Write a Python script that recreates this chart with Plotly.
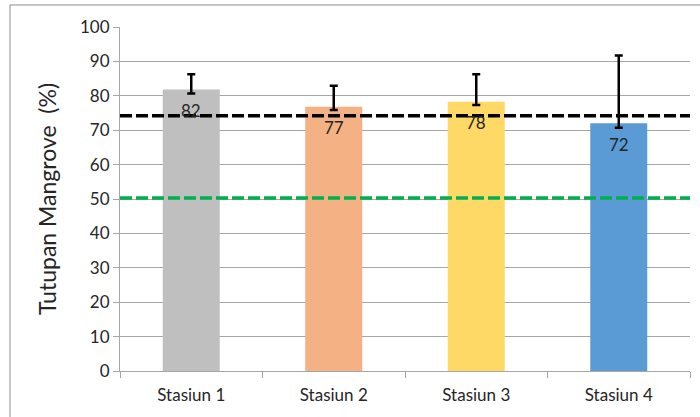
import plotly.graph_objects as go

categories = ["Stasiun 1", "Stasiun 2", "Stasiun 3", "Stasiun 4"]
values = [81.8, 76.8, 78.3, 72.0]
labels = ["82", "77", "78", "72"]
err_plus = [4.5, 6.1, 8.0, 19.7]
err_minus = [1.1, 0.9, 1.0, 1.3]
colors = ["#BFBFBF", "#F4B183", "#FFD966", "#5B9BD5"]
ref_black = 74.2
ref_green = 50.3

FONT = "Lato"

fig = go.Figure()
fig.add_trace(go.Bar(
    x=categories, y=values,
    marker=dict(color=colors, line=dict(width=0)),
    error_y=dict(type="data", symmetric=False, array=err_plus, arrayminus=err_minus,
                 color="black", thickness=2.5, width=4),
    showlegend=False,
    hoverinfo="skip",
))

for c, v, t in zip(categories, values, labels):
    fig.add_annotation(x=c, y=v, text=t, showarrow=False, yshift=-21,
                       font=dict(family=FONT, size=17, color="#262626"))

fig.add_shape(type="line", xref="paper", x0=0, x1=1, yref="y", y0=ref_black, y1=ref_black,
              line=dict(color="black", width=3.7, dash="12px,4px"))
fig.add_shape(type="line", xref="paper", x0=0, x1=1, yref="y", y0=ref_green, y1=ref_green,
              line=dict(color="#00B050", width=3.5, dash="12px,4px"))

# outer chart border
fig.add_shape(type="rect", xref="paper", yref="paper", x0=-0.193, x1=1.1, y0=-0.3, y1=1.064,
              line=dict(color="#8C8C8C", width=1), fillcolor="rgba(0,0,0,0)", layer="below")

fig.update_layout(
    width=700, height=417,
    margin=dict(l=120, r=10, t=27, b=46),
    paper_bgcolor="white", plot_bgcolor="white",
    bargap=0.6,
    font=dict(family=FONT, color="#404040"),
    yaxis=dict(range=[0, 100], dtick=10, showgrid=True, gridcolor="#A6A6A6", gridwidth=1,
               showline=True, linecolor="#A6A6A6", linewidth=1, ticks="outside", ticklen=6,
               tickcolor="#A6A6A6", tickfont=dict(size=17, color="#262626"), zeroline=False,
               title=dict(text="Tutupan Mangrove  (%)", font=dict(size=23, color="#262626"), standoff=16)),
    xaxis=dict(showline=True, linecolor="#A6A6A6", linewidth=1, ticks="outside", ticklen=6,
               tickcolor="#A6A6A6", tickson="boundaries", showgrid=False, ticklabelstandoff=9,
               tickfont=dict(size=17, color="#262626")),
)

fig.write_html("out.html", config={"displayModeBar": False},
               post_script="document.body.style.margin='0';")
